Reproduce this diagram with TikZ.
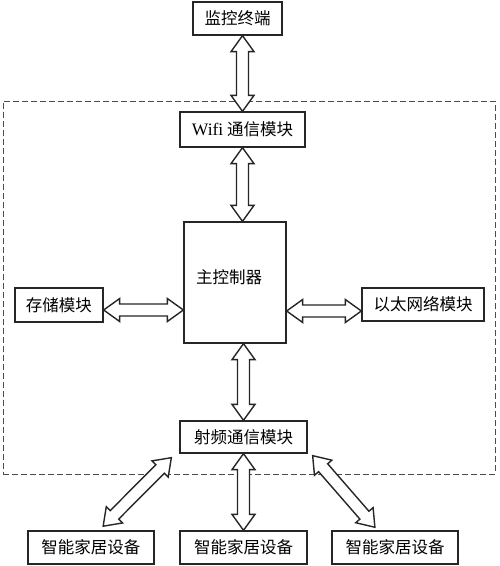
\documentclass[tikz,border=0pt]{standalone}
\usepackage{fontspec}
\setmainfont{Liberation Serif}
\newfontfamily\cjk{Noto Sans CJK SC}
\usetikzlibrary{calc}
\tikzset{
  box/.style={draw=black!85, line width=1.3pt, inner sep=0pt, fill=white,
    font=\fontsize{16.5}{19}\selectfont\cjk},
  bigarr/.style={draw=black!85, line width=1.4pt, line join=miter, fill=white},
  frame/.style={draw=black!70, line width=1pt, dash pattern=on 6pt off 3pt, inner sep=0pt}
}
\newcommand\bigarrow[2]{%
  \path let \p1=($(#2)-(#1)$), \n1={atan2(\y1,\x1)}, \n2={veclen(\x1,\y1)} in
    \pgfextra{\pgfmathsetmacro\myarrA{\n1}\pgfmathsetmacro\myarrL{\n2}%
      \xdef\myarrang{\myarrA}\xdef\myarrlen{\myarrL}};
  \begin{scope}[shift={(#1)}, rotate=\myarrang, x=1pt, y=1pt]
    \draw[bigarr] (0,0) -- (16,11.5) -- (16,6) -- (\myarrlen-16,6) -- (\myarrlen-16,11.5)
      -- (\myarrlen,0) -- (\myarrlen-16,-11.5) -- (\myarrlen-16,-6) -- (16,-6) -- (16,-11.5) -- cycle;
  \end{scope}}
\begin{document}
\begin{tikzpicture}[x=1pt, y=-1pt]
\useasboundingbox (0,0) rectangle (500,566);
\node[frame, minimum width=492, minimum height=373] (frm) at (249,287.5) {};
\node[box, minimum width=89, minimum height=33] (top) at (237.5,18.5) {监控终端};
\node[box, minimum width=125, minimum height=35] (wifi) at (242.5,129.5) {{\rmfamily\fontsize{17.5}{19}\selectfont Wifi} 通信模块};
\node[box, minimum width=102, minimum height=121,
  label={[font=\fontsize{16.5}{19}\selectfont\cjk, xshift=-6pt, yshift=5pt]center:主控制器}] (main) at (235,282.5) {};
\node[box, minimum width=88, minimum height=34] (store) at (59,305) {存储模块};
\node[box, minimum width=122, minimum height=33] (eth) at (423,304.5) {以太网络模块};
\node[box, minimum width=127, minimum height=32] (rf) at (243.5,437) {射频通信模块};
\node[box, minimum width=126, minimum height=33] (d1) at (91,547.5) {智能家居设备};
\node[box, minimum width=127, minimum height=33] (d2) at (243.5,547.5) {智能家居设备};
\node[box, minimum width=126, minimum height=33] (d3) at (395,547.5) {智能家居设备};
\coordinate (a1) at (wifi.north |- top.south);
\coordinate (a2) at (wifi.north);
\coordinate (b1) at (wifi.south);
\coordinate (b2) at (wifi.south |- main.north);
\coordinate (c1) at (rf.north |- main.south);
\coordinate (c2) at (rf.north);
\coordinate (s1) at ($(store.east)+(0,5)$);
\coordinate (s2) at (s1 -| main.west);
\coordinate (e1) at ($(eth.west)+(0,6.5)$);
\coordinate (e2) at (e1 -| main.east);
\coordinate (m1) at (rf.south);
\coordinate (m2) at (rf.south |- d2.north);
\coordinate (l1) at ($(rf.south west)+(-8,4)$);
\coordinate (l2) at ($(d1.north)+(12,-4)$);
\coordinate (r1) at ($(rf.south east)+(5,2)$);
\coordinate (r2) at ($(d3.north)+(-20,-3)$);
\bigarrow{a1}{a2}
\bigarrow{b1}{b2}
\bigarrow{c1}{c2}
\bigarrow{s1}{s2}
\bigarrow{e1}{e2}
\bigarrow{m1}{m2}
\bigarrow{l1}{l2}
\bigarrow{r1}{r2}
\end{tikzpicture}
\end{document}
